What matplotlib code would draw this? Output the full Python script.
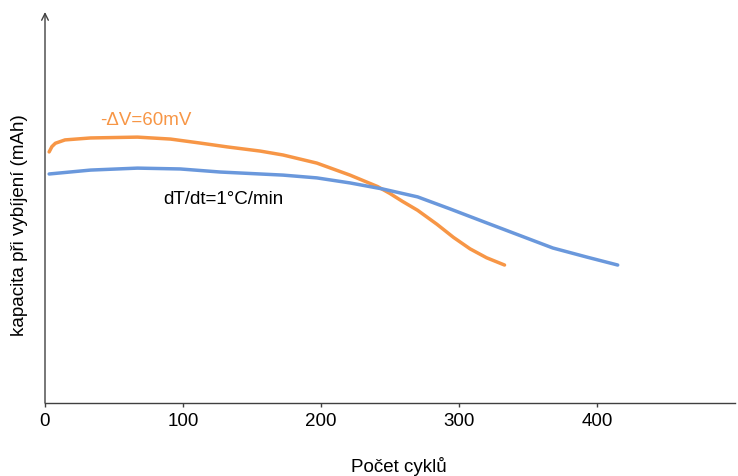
import matplotlib.pyplot as plt

plt.rcParams['font.family'] = ['Liberation Sans', 'DejaVu Sans']

# -dV = 60 mV termination
cycles_dv = [3, 5, 7.5, 14.5, 33, 67, 91, 112, 132, 156, 172.5, 197, 221, 241, 250, 259, 270,
             284, 296, 308, 320, 333]
cap_dv = [899, 918, 930, 942, 949, 952, 945, 931, 917, 902, 888, 859, 816, 775, 750, 722, 690,
          640, 593, 552, 520, 494]

# dT/dt = 1 °C/min termination
cycles_dt = [3, 33, 67, 98, 127, 156, 172.5, 197, 221, 245, 270, 293.5, 320, 344, 368, 393, 415]
cap_dt = [820, 834, 841, 838, 827, 820, 816, 806, 788, 766, 738, 695, 645, 600, 555, 522, 494]

x_ticks = [0, 100, 200, 300, 400]

orange = '#F79646'
blue = '#6A98DC'
axis_col = '#404040'

fig = plt.figure(figsize=(7.38, 4.76), dpi=100)
ax = fig.add_axes([45 / 738, 73 / 476, 690 / 738, 391 / 476])

ax.plot(cycles_dv, cap_dv, color=orange, lw=2.5, solid_capstyle='round', solid_joinstyle='round')
ax.plot(cycles_dt, cap_dt, color=blue, lw=2.5, solid_capstyle='round', solid_joinstyle='round')

ax.text(40, 1013, '-ΔV=60mV', color=orange, fontsize=13.5, va='center')
ax.text(85.5, 730, 'dT/dt=1°C/min', color='black', fontsize=13.5, va='center')

ax.set_xlim(0, 500)
ax.set_ylim(0, 1400)
ax.set_xticks(x_ticks)
ax.set_yticks([])
ax.tick_params(axis='x', direction='out', length=3, width=1, color=axis_col,
               labelsize=13.5, pad=4)

for side in ['top', 'right', 'left']:
    ax.spines[side].set_visible(False)
ax.spines['bottom'].set_color(axis_col)
ax.spines['bottom'].set_linewidth(1)

# y axis drawn as an arrow
ax.annotate('', xy=(0, 1), xycoords='axes fraction', xytext=(0, 0),
            textcoords='axes fraction',
            arrowprops=dict(arrowstyle='->', color=axis_col, lw=1, mutation_scale=12,
                            shrinkA=0, shrinkB=0))

ax.set_xlabel('Počet cyklů', fontsize=13.5)
ax.set_ylabel('kapacita při vybíjení (mAh)', fontsize=13.5)
ax.xaxis.set_label_coords(0.513, -0.137)
ax.yaxis.set_label_coords(-0.025, 0.455)

fig.savefig('out.png', dpi=100)
